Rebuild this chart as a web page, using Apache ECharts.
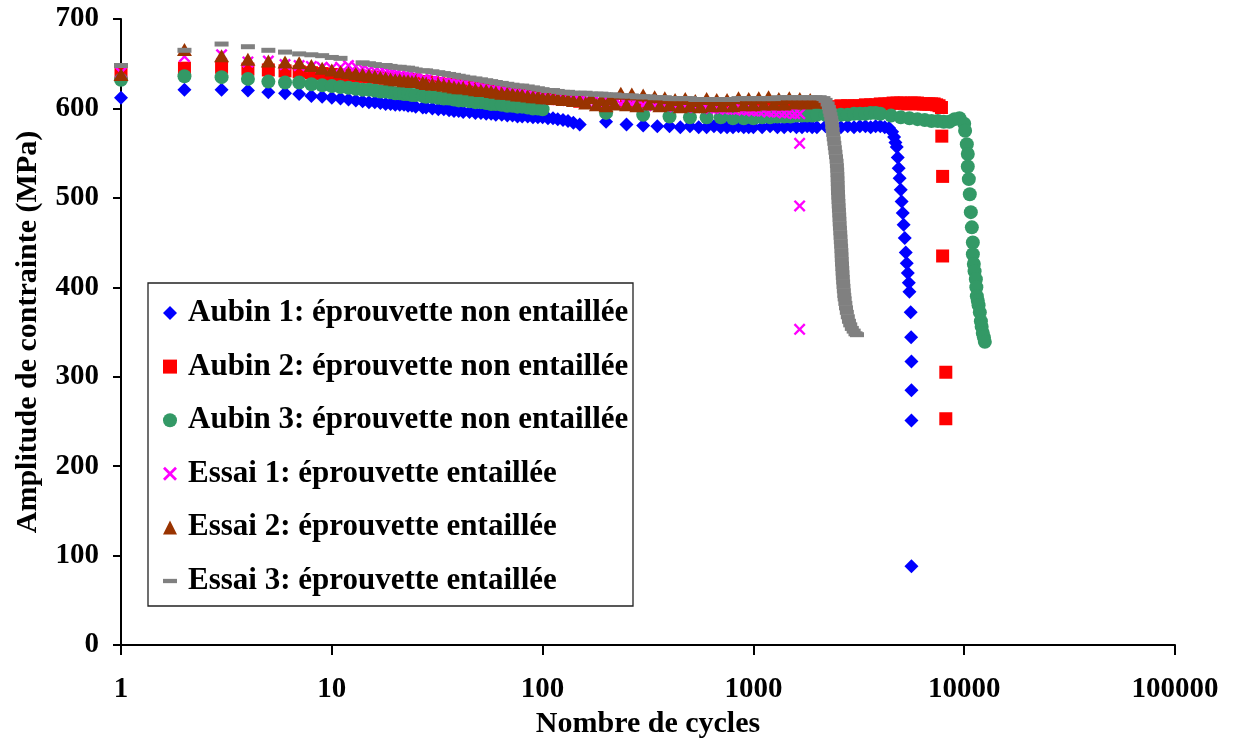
<!DOCTYPE html>
<html>
<head>
<meta charset="utf-8">
<script src="https://cdn.jsdelivr.net/npm/echarts@6/dist/echarts.min.js"></script>
<style>
html,body{margin:0;padding:0;background:#fff;}
#chart{width:1233px;height:738px;}
</style>
</head>
<body>
<div id="chart"></div>
<script>
// ---------- DATA ----------
const seriesNames = [
  'Aubin 1: éprouvette non entaillée',
  'Aubin 2: éprouvette non entaillée',
  'Aubin 3: éprouvette non entaillée',
  'Essai 1: éprouvette entaillée',
  'Essai 2: éprouvette entaillée',
  'Essai 3: éprouvette entaillée'
];
const xTickLabels = ['1', '10', '100', '1000', '10000', '100000'];

// shared cycle samples
const earlyCycles = [1,2,3,4,5,6,7,8,9,10,11,12,13,14,15,16,17,18,19,20];
const rampCycles = [21,22,23,24,25,27,28,30,32,34,36,38,40,42,45,48,51,54,57,60,64,68,72,76,80,85,90,95,100,106,112,118,125,132,140,150];
const midCycles = [160,170,180,190,200,210,220,235,250,265,280,300,320,340,360,380,400,425,450,475,500,530,560,600,630,670,710,750,800,850,900,950,1000,1060,1120,1180,1250,1320,1400,1480,1570,1660,1760,1860,1970];
const sparseCycles = [200,250,300,350,400,450,500,550,600,650,700,750,800,850,900,950,1000,1100,1200,1300,1400,1500,1600,1700,1800,1900,2000,2200,2400,2600,2800,3000,3200,3400,3600,3800,4000,4200,4400];

// Aubin 1 (blue diamonds)
const aubin1Early = [612,621,621,620,618,617,616,614,613,612,611,610,609,608,607,607,606,605,605,604];
const aubin1Ramp = [604,604,603,603,602,601,601,600,599,599,598,597,597,596,596,595,595,594,594,593,593,592,592,591,591,591,590,590,590,589,589,588,587,586,584,582];
const aubin1Sparse = [585,582,581,580,580,579,580,579,579,580,579,579,579,580,579,579,579,579,580,579,579,580,579,579,580,579,579,580,579,579,580,579,580,580,579,580,580,579,578];
const aubin1DropCycles = [4550,4650,4720,4786,4840,4890,4940,5000,5050,5110,5160,5225,5280,5340,5400,5460,5500,5575,5600,5620,5620,5620,5620];
const aubin1Drop = [574,568,562,557,545,533,522,509,496,483,470,455,439,427,416,405,395,372,344,317,285,251,88];

// Aubin 2 (red squares)
const aubin2Early = [640,645,646,644,643,642,641,640,639,638,637,637,636,636,635,635,634,634,633,633];
const aubin2Ramp = [633,632,632,632,631,630,630,629,628,627,627,626,625,625,624,623,622,621,621,620,619,618,617,617,616,615,614,614,613,612,611,611,610,610,609,608];
const aubin2Sparse = [608,607,607,606,606,606,605,605,605,604,604,604,604,603,603,603,603,603,602,602,602,602,602,602,602,602,602,602,602,603,603,603,603,604,604,604,605,605,605];
const aubin2LateCycles = [4600,4800,5000,5200,5400,5600,5800,6000,6200,6400,6600,6800,7000,7200,7400,7600,7800];
const aubin2Late = [606,606,606,606,605,606,606,606,605,605,605,605,605,605,604,603,601];
const aubin2DropCycles = [7830,7900,7900,8180,8180];
const aubin2Drop = [569,524,435,305,253];

// Aubin 3 (green circles)
const aubin3Early = [632,636,635,633,630,629,629,627,626,625,624,623,622,621,621,620,619,619,618,617];
const aubin3RampCycles = [21,22,23,24,25,27,28,30,32,34,36,38,40,42,45,48,51,54,57,60,64,68,72,76,80,85,90,95,100];
const aubin3Ramp = [617,616,616,615,615,614,613,613,612,611,611,610,609,609,608,607,607,606,605,605,604,603,603,602,602,601,600,600,599];
const aubin3MidCycles = [200,300,400,500,600,700,800,900,1000,1100,1200,1300,1400,1500,1600,1700,1800,1900,2000,2200,2400,2600,2800,3000,3200,3400,3600,3800,4000,4500,5000,5500,6000,6500,7000,7500,8000,8500,9000,9500,10000];
const aubin3Mid = [595,593,591,590,590,590,589,589,589,590,590,591,591,591,592,592,592,592,593,593,593,593,593,594,594,594,595,595,594,592,590,589,588,587,586,586,585,585,588,589,583];
const aubin3DropCycles = [10100,10290,10400,10400,10520,10630,10750,10870,10990,10990,11110,11200,11360,11420,11480,11600,11700,11860,12000,12100,12250,12400,12530];
const aubin3Drop = [575,560,549,535,521,504,484,467,450,437,426,418,409,400,390,385,380,372,362,356,349,344,339];

// Essai 1 (magenta crosses)
const essai1Early = [640,658,660,652,653,649,648,647,646,645,646,648,647,645,643,642,641,640,639,638];
const essai1Ramp = [637,636,636,635,634,633,632,631,630,629,628,628,627,626,625,624,623,622,621,620,619,618,617,617,616,615,614,613,612,611,611,610,610,609,609,608];
const essai1MidCycles = [160,170,180,190,200,210,220,235,250,265,280,300,320,340,360,380,400,425,450,475,500,530,560,600,630,670,710,750,800,850,900,950,1000,1060,1120,1180,1250,1320,1400,1480,1570,1660];
const essai1Mid = [608,607,607,607,606,606,606,605,605,605,604,604,604,603,603,603,603,602,602,602,602,601,601,601,600,600,600,599,599,599,598,598,597,597,597,596,596,596,595,595,594,594];
const essai1OutCycles = [1657,1657,1657];
const essai1Out = [561,491,353];

// Essai 2 (brown triangles)
const essai2Early = [638,666,659,655,653,652,651,648,645,643,641,640,639,638,637,636,635,634,633,632];
const essai2Ramp = [632,631,631,630,630,629,628,627,627,626,625,624,623,623,622,621,620,620,619,618,617,617,616,615,615,614,613,613,612,612,611,611,610,610,609,609];
const essai2Mid = [606,612,604,610,603,611,605,617,604,616,603,615,605,613,603,612,604,610,602,611,603,609,602,611,603,610,603,610,603,612,604,611,604,612,605,613,605,611,605,612,606,611,606,610,607];

// Essai 3 (grey dashes)
const essai3EarlyCycles = [1,2,3,4,5,6,7,8,9,10,11];
const essai3Early = [648,665,672,669,665,663,661,660,659,657,656];
const essai3LeadCycles = [14,15,16,17,18,19,20];
const essai3Lead = [651,650,649,648,648,647,646];
const essai3Ramp = [646,645,645,644,643,642,642,641,640,639,638,637,636,635,634,633,632,631,630,629,628,627,626,625,625,624,623,622,621,620,620,619,618,618,617,617];
const essai3Mid = [617,616,616,616,615,615,615,614,614,614,613,613,613,612,612,612,611,611,611,611,611,610,610,610,610,610,610,610,610,611,611,611,611,611,611,611,611,612,612,612,612,612,612,612,612];
const essai3DropCycles = [2062,2150,2200,2250,2280,2300,2320,2340,2355,2365,2375,2390,2405,2420,2435,2450,2465,2480,2490,2497,2503,2508,2512,2516,2520,2525,2532,2539,2546,2553,2560,2566,2574,2582,2590,2598,2606,2614,2620,2626,2632,2640,2648,2656,2664,2675,2686,2698,2710,2730,2750,2775,2805,2840,2880,2930,2990,3050,3100];
const essai3Drop = [612,611,609,605,601,597,593,589,585,580,576,571,566,561,556,551,546,541,536,531,526,521,516,511,506,501,496,491,486,481,476,471,466,461,456,451,446,441,436,431,426,421,416,411,406,401,396,391,387,382,377,372,367,362,358,354,351,348,347];

// ---------- BUILD ----------
function zip(xs, ys) { return xs.map((x, i) => [x, ys[i]]); }
function join() { let out = []; for (let i = 0; i < arguments.length; i += 2) out = out.concat(zip(arguments[i], arguments[i + 1])); return out; }

const d1 = join(earlyCycles, aubin1Early, rampCycles, aubin1Ramp, sparseCycles, aubin1Sparse, aubin1DropCycles, aubin1Drop);
const d2 = join(earlyCycles, aubin2Early, rampCycles, aubin2Ramp, sparseCycles, aubin2Sparse, aubin2LateCycles, aubin2Late, aubin2DropCycles, aubin2Drop);
const d3 = join(earlyCycles, aubin3Early, aubin3RampCycles, aubin3Ramp, aubin3MidCycles, aubin3Mid, aubin3DropCycles, aubin3Drop);
const d4 = join(earlyCycles, essai1Early, rampCycles, essai1Ramp, essai1MidCycles, essai1Mid, essai1OutCycles, essai1Out);
const d5 = join(earlyCycles, essai2Early, rampCycles, essai2Ramp, midCycles, essai2Mid);
const d6 = join(essai3EarlyCycles, essai3Early, essai3LeadCycles, essai3Lead, rampCycles, essai3Ramp, midCycles, essai3Mid, essai3DropCycles, essai3Drop);

const FONT = "'Liberation Serif','Times New Roman',serif";
const crossPath = 'path://M0,1.4L1.4,0L5,3.6L8.6,0L10,1.4L6.4,5L10,8.6L8.6,10L5,6.4L1.4,10L0,8.6L3.6,5Z';
const dashPath = 'path://M0,0H13V4H0Z';

const styles = [
  { symbol: 'diamond', size: [14, 14], color: '#0000FF', icon: 'diamond' },
  { symbol: 'rect', size: [13, 13], color: '#FF0000', icon: 'rect' },
  { symbol: 'circle', size: [14, 14], color: '#339966', icon: 'circle' },
  { symbol: crossPath, size: [12, 12], color: '#FF00FF', icon: crossPath },
  { symbol: 'triangle', size: [15, 13], color: '#993300', icon: 'triangle' },
  { symbol: 'rect', size: [14, 5], color: '#808080', icon: dashPath }
];
const datasets = [d1, d2, d3, d4, d5, d6];

const series = datasets.map((d, i) => ({
  name: seriesNames[i],
  type: 'scatter',
  data: d,
  symbol: styles[i].symbol,
  symbolSize: styles[i].size,
  itemStyle: { color: styles[i].color, opacity: 1 },
  emphasis: { disabled: true },
  silent: true,
  z: 2
}));

const chart = echarts.init(document.getElementById('chart'), null, { renderer: 'canvas' });
chart.setOption({
  animation: false,
  backgroundColor: '#ffffff',
  grid: { left: 121, right: 58, top: 19, bottom: 93, containLabel: false, outerBoundsMode: 'none' },
  xAxis: {
    type: 'log', logBase: 10, min: 1, max: 100000,
    name: 'Nombre de cycles', nameLocation: 'middle', nameGap: 60,
    nameTextStyle: { fontFamily: FONT, fontWeight: 'bold', fontSize: 30, color: '#000' },
    axisLine: { lineStyle: { color: '#000', width: 2 } },
    axisTick: { show: true, length: 10, lineStyle: { color: '#000', width: 2 } },
    minorTick: { show: false },
    splitLine: { show: false },
    axisLabel: {
      margin: 30, color: '#000', fontFamily: FONT, fontWeight: 'bold', fontSize: 29,
      formatter: v => xTickLabels[Math.round(Math.log10(v))]
    }
  },
  yAxis: {
    type: 'value', min: 0, max: 700, interval: 100,
    name: 'Amplitude de contrainte (MPa)', nameLocation: 'middle', nameGap: 78,
    nameTextStyle: { fontFamily: FONT, fontWeight: 'bold', fontSize: 30, color: '#000' },
    axisLine: { show: true, lineStyle: { color: '#000', width: 2 } },
    axisTick: { show: true, length: 8, lineStyle: { color: '#000', width: 2 } },
    splitLine: { show: false },
    axisLabel: { margin: 22, color: '#000', fontFamily: FONT, fontWeight: 'bold', fontSize: 29 }
  },
  legend: {
    orient: 'vertical', left: 163, top: 297, padding: 0,
    itemWidth: 14, itemHeight: 14, itemGap: 21.6,
    selectedMode: false,
    data: seriesNames.map((n, i) => ({ name: n, icon: styles[i].icon, itemStyle: { color: styles[i].color } })),
    textStyle: { fontFamily: FONT, fontWeight: 'bold', fontSize: 31, color: '#000', lineHeight: 32, padding: [0, 0, 0, 6] }
  },
  graphic: [{
    type: 'rect', z: 3, silent: true,
    shape: { x: 148, y: 283, width: 485, height: 323 },
    style: { fill: '#ffffff', stroke: '#222', lineWidth: 1.3 }
  }],
  series: series
});
</script>
</body>
</html>
